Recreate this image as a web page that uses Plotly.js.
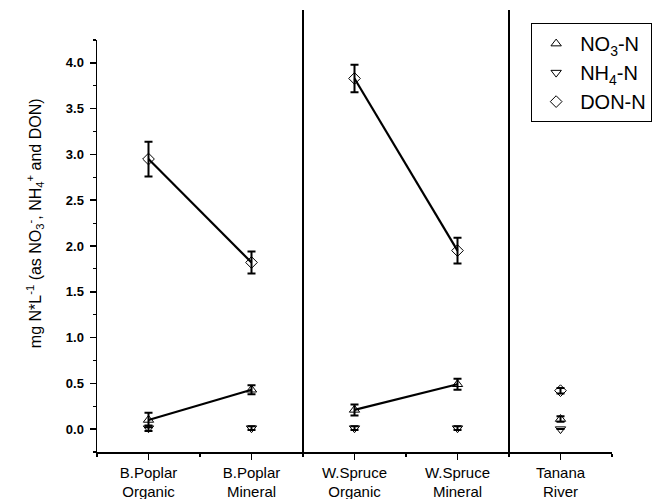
<!DOCTYPE html>
<html>
<head>
<meta charset="utf-8">
<script src="https://cdn.plot.ly/plotly-3.0.1.min.js"></script>
<style>html,body{margin:0;padding:0;background:#fff;}#chart{width:664px;height:499px;}</style>
</head>
<body>
<div id="chart"></div>
<script>
// ---- data ----
var sitePos = [1, 2, 3, 4, 5];
var siteLabels = ["B.Poplar<br>Organic", "B.Poplar<br>Mineral", "W.Spruce<br>Organic", "W.Spruce<br>Mineral", "Tanana<br>River"];
var siteGroups = ["BP", "BP", "WS", "WS", "TR"];
var no3 = [0.10, 0.43, 0.21, 0.49, 0.11];
var no3Err = [0.08, 0.05, 0.06, 0.06, 0.03];
var nh4 = [0.01, 0.01, 0.01, 0.01, 0.00];
var nh4Err = [0.03, 0.02, 0.02, 0.02, 0.0];
var don = [2.95, 1.82, 3.83, 1.95, 0.42];
var donErr = [0.19, 0.12, 0.15, 0.14, 0.03];
var dividers = [2.5, 4.5];

var font = "Liberation Sans, Arial, sans-serif";
var traces = [];

function lineSegments(vals) {
  var groups = [];
  siteGroups.forEach(function (g) { if (groups.indexOf(g) < 0) groups.push(g); });
  groups.forEach(function (g) {
    var xs = [], ys = [];
    siteGroups.forEach(function (gg, i) { if (gg === g) { xs.push(sitePos[i]); ys.push(vals[i]); } });
    if (xs.length > 1) {
      traces.push({x: xs, y: ys, mode: "lines", type: "scatter", showlegend: false,
        line: {color: "#000", width: 2.2}, hoverinfo: "skip"});
    }
  });
}

function markerTrace(name, vals, errs, symbol, size, group) {
  traces.push({
    x: sitePos, y: vals, name: name, type: "scatter", mode: "markers",
    legendgroup: group,
    marker: {symbol: symbol, size: size, color: "#000", line: {color: "#000", width: 1}},
    error_y: {type: "data", array: errs, visible: true, color: "#000", thickness: 2, width: 4}
  });
}

lineSegments(don);
lineSegments(no3);
markerTrace("NO<sub>3</sub>-N", no3, no3Err, "triangle-up-open", 9, "a");
markerTrace("NH<sub>4</sub>-N", nh4, nh4Err, "triangle-down-open", 9, "b");
markerTrace("DON-N", don, donErr, "diamond-open", 9, "c");

var shapes = dividers.map(function (d) {
  return {type: "line", xref: "x", yref: "paper", x0: d, x1: d, y0: 0, y1: 1.073,
    line: {color: "#000", width: 2}};
});

var layout = {
  width: 664, height: 499,
  margin: {l: 97, r: 50, t: 40, b: 47},
  paper_bgcolor: "#fff", plot_bgcolor: "#fff",
  showlegend: true,
  font: {family: font, color: "#000"},
  xaxis: {
    range: [0.5, 5.5], tickvals: sitePos, ticktext: siteLabels,
    showgrid: false, zeroline: false, showline: true, linecolor: "#000", linewidth: 1.5,
    ticks: "outside", ticklen: 6, tickwidth: 1.5, tickcolor: "#000",
    tickfont: {family: font, size: 15, color: "#000"},
    minor: {tick0: 0.5, dtick: 1, ticks: "outside", ticklen: 3, tickwidth: 1.2, tickcolor: "#000", showgrid: false},
    fixedrange: true
  },
  yaxis: {
    range: [-0.25, 4.25], dtick: 0.5, tick0: 0, tickformat: ".1f",
    showgrid: false, zeroline: false, showline: true, linecolor: "#000", linewidth: 1.5,
    ticks: "outside", ticklen: 6, tickwidth: 1.5, tickcolor: "#000",
    tickfont: {family: font, size: 13, color: "#000", weight: "bold"},
    ticklabelstandoff: 3,
    minor: {dtick: 0.25, ticks: "outside", ticklen: 3, tickwidth: 1.2, tickcolor: "#000", showgrid: false},
    fixedrange: true
  },
  legend: {
    x: 0.843, y: 1.041, xanchor: "left", yanchor: "top",
    bordercolor: "#000", borderwidth: 1, bgcolor: "#fff",
    font: {family: font, size: 20, color: "#000"},
    itemwidth: 38,
    traceorder: "grouped", tracegroupgap: 0
  },
  shapes: shapes,
  annotations: [{
    xref: "paper", yref: "paper", x: -0.12, y: 0.556, xanchor: "center", yanchor: "middle",
    textangle: -90, showarrow: false,
    text: "mg N*L<sup>-1</sup> (as NO<sub>3</sub><sup>-</sup>, NH<sub>4</sub><sup>+</sup> and DON)",
    font: {family: font, size: 16, color: "#000"}
  }]
};

Plotly.newPlot("chart", traces, layout, {displayModeBar: false, staticPlot: true});
</script>
</body>
</html>
